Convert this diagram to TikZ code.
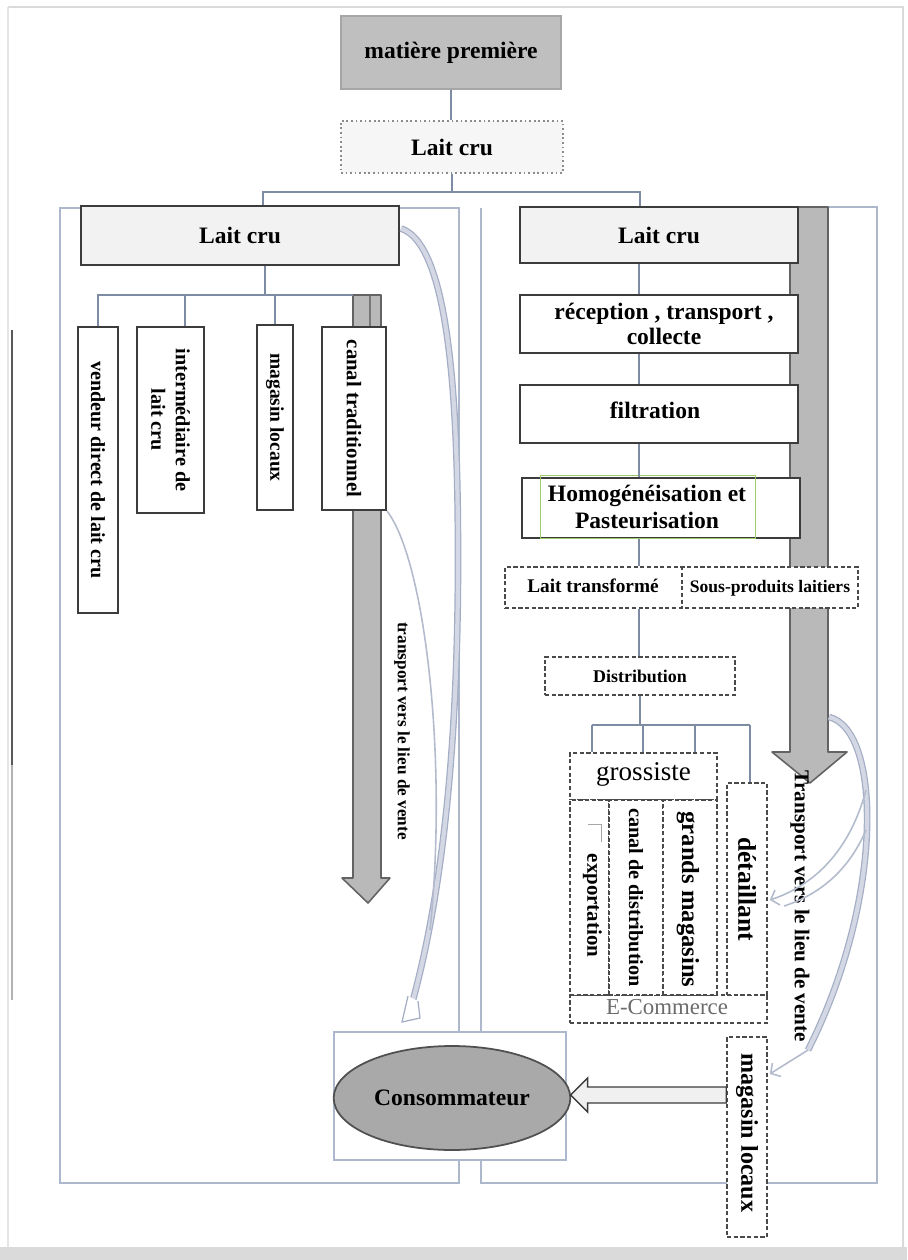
\documentclass[tikz,border=0pt]{standalone}
\usepackage{fontspec}
\setmainfont{Liberation Serif}
\usetikzlibrary{fit,calc,arrows.meta,shapes.geometric}

\definecolor{conncol}{HTML}{7D8CA3}
\definecolor{contcol}{HTML}{AEB8CC}
\definecolor{boxdark}{HTML}{3C3C3C}
\definecolor{dashcol}{HTML}{4A4A4A}
\definecolor{barfill}{HTML}{B9B9B9}
\definecolor{bandedge}{HTML}{A3ADC4}
\definecolor{bandfill}{HTML}{D3D8E4}
\definecolor{thincol}{HTML}{B3BBCD}
\definecolor{mpfill}{HTML}{BFBFBF}
\definecolor{softfill}{HTML}{F2F2F2}
\definecolor{consfill}{HTML}{A9A9A9}
\definecolor{greenline}{HTML}{9ACD6A}
\definecolor{pagegray}{HTML}{DADADA}

\newcommand\fsz[2]{\fontsize{#1}{#2}\selectfont}

\tikzset{
  conn/.style={draw=conncol, line width=0.75pt},
  cont/.style={draw=contcol, line width=0.75pt},
  sbox/.style={draw=boxdark, line width=1.1pt, fill=white, inner sep=0pt},
  gbox/.style={sbox, fill=softfill},
  dbox/.style={draw=dashcol, line width=0.9pt, dash pattern=on 2.4pt off 1.4pt, fill=white, inner sep=0pt},
  txt/.style={align=center, inner sep=0pt},
  vtxt/.style={rotate=-90, align=center, inner sep=0pt},
  bar/.style={fill=barfill, draw=boxdark!80, line width=0.9pt, line join=round},
  band/.style={draw=bandedge, line width=0.7pt, double=bandfill, double distance=2.4pt},
  thinc/.style={draw=thincol, line width=0.9pt},
  barb/.style={-{Straight Barb[length=4pt,width=9pt]}},
  hbig/.style={font=\bfseries\fsz{13.4}{15.4}},
}

\begin{document}
\begin{tikzpicture}[x=0.02cm,y=-0.02cm]
\useasboundingbox (0,0) rectangle (907,1260);

% sheet
\fill[white] (0,0) rectangle (907,1260);
\fill[pagegray] (0,1247) rectangle (907,1260);
\draw[pagegray, line width=0.8pt] (8,7) -- (903,7) -- (903,1247);
\draw[pagegray!70, line width=0.6pt] (8,7) -- (8,1247);
\draw[black!65, line width=1.1pt] (12,330) -- (12,765);
\draw[black!30, line width=0.8pt] (12,765) -- (12,1000);

% two frames
\draw[cont] (60,208) rectangle (459,1183);
\draw[cont] (827,207) -- (877,207) -- (877,1183) -- (481,1183) -- (481,208);

% broad grey arrows
\draw[bar] (790,207) -- (828,207) -- (828,752) -- (847,752) -- (810,783) -- (772,752) -- (790,752) -- cycle;
\draw[bar] (353,295) -- (381,295) -- (381,878) -- (390,878) -- (368,903) -- (342,878) -- (353,878) -- cycle;
\draw[boxdark!70, line width=0.6pt] (370,296) -- (370,327);

% top of the chain
\node[fit={(341,16) (561,89)}, inner sep=0pt, fill=mpfill, draw=black!35, line width=0.6pt] (mp) {};
\node[txt, hbig] (mpT) at (mp.center) {matière première};
\node[fit={(341,121) (563,173)}, inner sep=0pt, fill=softfill!70, draw=black!45, line width=0.8pt, dash pattern=on 1pt off 1.6pt] (lc0) {};
\node[txt, hbig] (lc0T) at (lc0.center) {Lait cru};
\draw[conn] (mp.south) -- (mp.south |- lc0.north);

\node[fit={(81,206) (399,265)}, gbox] (lcL) {};
\node[txt, hbig] (lcLT) at (lcL.center) {Lait cru};
\node[fit={(520,207) (798,263)}, gbox] (lcR) {};
\node[txt, hbig] (lcRT) at (lcR.center) {Lait cru};

\coordinate (brL) at (263,192);
\coordinate (brR) at (640,192);
\draw[conn] (lc0.south) |- (brL) -- (brL |- lcL.north);
\draw[conn] (lc0.south) |- (brR) -- (brR |- lcR.north);

% traditional channel
\node[fit={(78,327) (118,613)}, sbox] (vend) {};
\node[vtxt, font=\bfseries\fsz{11.4}{13}] (vendT) at (vend.center) {vendeur direct de lait cru};
\node[fit={(137,327) (204,513)}, sbox] (inter) {};
\node[vtxt, font=\bfseries\fsz{11.5}{14}] (interT) at (inter.center) {intermédiaire de\\lait cru};
\node[fit={(257,325) (293,510)}, sbox] (magL) {};
\node[vtxt, font=\bfseries\fsz{11.1}{13}] (magLT) at (magL.center) {magasin locaux};
\node[fit={(322,327) (386,510)}, sbox] (canal) {};
\node[vtxt, font=\bfseries\fsz{11.8}{13}] (canalT) at (canal.center) {canal traditionnel};

\coordinate (lbr) at (265,295);
\coordinate (dI) at (185,295);
\coordinate (barTop) at (353,295);
\draw[conn] (lcL.south -| lbr) -- (lbr);
\draw[conn] (vend.north) |- (barTop);
\draw[conn] (dI) -- (dI |- inter.north);
\draw[conn] (magL.north) -- (magL.north |- lbr);

\node[vtxt, font=\bfseries\fsz{9.8}{11}] (trL) at (402,731) {transport vers le lieu de vente};

% processing chain
\coordinate (spine) at (639,0);
\node[fit={(520,295) (798,353)}, sbox] (rec) {};
\node[txt, font=\bfseries\fsz{13.4}{14.4}] (recT) at ($(rec.center)+(5,0)$) {réception , transport ,\\collecte};
\node[fit={(520,385) (798,443)}, sbox] (fil) {};
\node[txt, hbig] (filT) at ($(fil.center)+(-4,-4)$) {filtration};
\node[fit={(522,478) (800,538)}, sbox] (hom) {};
\draw[greenline, line width=0.5pt] (540,475) rectangle (755,538);
\node[txt, font=\bfseries\fsz{13.4}{15.4}] (homT) at (647,507) {Homogénéisation et\\Pasteurisation};
\node[fit={(505,567) (858,608)}, dbox] (ltr) {};
\coordinate (ldiv) at (682,0);
\draw[draw=dashcol, line width=0.9pt, dash pattern=on 2.4pt off 1.4pt] (ltr.north -| ldiv) -- (ltr.south -| ldiv);
\node[txt, font=\bfseries\fsz{11}{13}] (ltA) at (593,586) {Lait transformé};
\node[txt, font=\bfseries\fsz{10}{12}] (ltB) at (770,588) {Sous-produits laitiers};

\draw[conn] (lcR.south -| spine) -- (rec.north -| spine);
\draw[conn] (rec.south -| spine) -- (fil.north -| spine);
\draw[conn] (fil.south -| spine) -- (hom.north -| spine);
\draw[conn] (hom.south -| spine) -- (ltr.north -| spine);

\node[fit={(545,657) (735,695)}, dbox] (dist) {};
\node[txt, font=\bfseries\fsz{10.2}{12}] (distT) at (dist.center) {Distribution};
\draw[conn] (ltr.south -| spine) -- (dist.north -| spine);

% distribution outlets
\node[fit={(570,753) (717,800)}, dbox] (gros) {};
\node[txt, font=\fsz{15.4}{17}] (grosT) at ($(gros.center)+(0,-2)$) {grossiste};
\node[fit={(570,995) (767,1023)}, dbox] (ecom) {};
\node[txt, text=black!58, font=\fsz{13}{15}] (ecomT) at (667,1007) {E-Commerce};
\node[fit={(570,800) (609,995)}, dbox] (expo) {};
\node[vtxt, font=\bfseries\fsz{11.9}{13}] (expoT) at ($(expo.center)+(3,8)$) {exportation};
\draw[black!35, line width=0.5pt] (588,824) -- (601,824) -- (601,842);
\node[fit={(609,800) (663,995)}, dbox] (cdd) {};
\node[vtxt, font=\bfseries\fsz{11.5}{13}] (cddT) at (cdd.center) {canal de distribution};
\node[fit={(663,800) (717,995)}, dbox] (gm) {};
\node[vtxt, font=\bfseries\fsz{14}{15}] (gmT) at ($(gm.center)+(-2,2)$) {grands magasins};
\node[fit={(727,783) (767,995)}, dbox] (det) {};
\node[vtxt, font=\bfseries\fsz{14.5}{15}] (detT) at (det.center) {détaillant};

\coordinate (g1) at (592,725);
\coordinate (g2) at (643,725);
\coordinate (g3) at (695,725);
\coordinate (g4) at (750,725);
\draw[conn] (dist.south) -- (dist.south |- g1);
\draw[conn] (g1) -- (g4);
\draw[conn] (g1) -- (g1 |- gros.north);
\draw[conn] (g2) -- (g2 |- gros.north);
\draw[conn] (g3) -- (g3 |- gros.north);
\draw[conn] (g4) -- (g4 |- det.north);

\node[vtxt, font=\bfseries\fsz{12}{13}] (trR) at (800,906) {Transport vers le lieu de vente};

% local shops and consumer
\node[fit={(727,1037) (767,1237)}, dbox] (mlR) {};
\node[vtxt, font=\bfseries\fsz{13.7}{15}] (mlRT) at (747,1133) {magasin locaux};

\node[fit={(334,1032) (566,1160)}, inner sep=0pt, fill=white, draw=contcol, line width=0.75pt] (cbox) {};
\node[ellipse, minimum width=4.4cm, minimum height=2.08cm, fill=consfill, draw=boxdark!90, line width=1pt, hbig] (cons) at (452,1098) {Consommateur};

\coordinate (ay) at (0,1095);
\coordinate (atail) at (mlR.west |- ay);
\coordinate (atip) at ($(cbox.east |- ay)+(4,0)$);
\draw[fill=black!6, draw=boxdark, line width=0.8pt, line join=miter]
  ($(atail)+(0,-8)$) -- ($(atip)+(17,-8)$) -- ($(atip)+(17,-17)$) -- (atip)
  -- ($(atip)+(17,17)$) -- ($(atip)+(17,8)$) -- ($(atail)+(0,8)$) -- cycle;

% curved transport links
\draw[band] ($(lcL.east)+(1,-7)$) .. controls (452,245) and (458,420) .. (458,560)
  .. controls (458,760) and (440,900) .. (413,1000);
\draw[draw=bandedge, fill=white, line width=0.7pt] (408,996) -- (402,1022) -- (420,1018) -- (418,1001);
\draw[thinc] (canal.south east) .. controls (425,560) and (448,760) .. (430,930);

\coordinate (rbs) at (829,717);
\coordinate (dty) at (0,900);
\coordinate (mty) at (0,1074);
\draw[band] (rbs) .. controls (882,730) and (884,900) .. (808,1050);
\draw[thinc, barb] (808,1050) -- ($(mlR.east |- mty)+(2,0)$);
\draw[thinc, barb] (866,790) .. controls (850,850) and (815,885) .. ($(det.east |- dty)+(2,0)$);
\draw[thinc] (866,830) .. controls (848,872) and (818,895) .. (784,906);
\end{tikzpicture}
\end{document}
